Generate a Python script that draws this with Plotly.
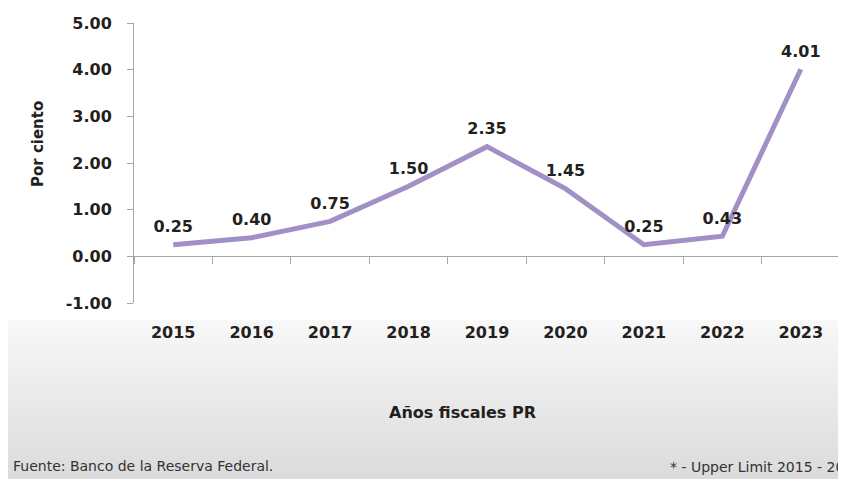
import base64
import plotly.graph_objects as go

years = ["2015", "2016", "2017", "2018", "2019", "2020", "2021", "2022", "2023"]
rates = [0.25, 0.40, 0.75, 1.50, 2.35, 1.45, 0.25, 0.43, 4.01]
rate_labels = [f"{v:.2f}" for v in rates]
y_ticks = [-1, 0, 1, 2, 3, 4, 5]
y_tick_labels = [f"{v:.2f}" for v in y_ticks]

FONT = "DejaVu Sans"
TXT = "#231F20"
AX = "#A6A6A6"
LINE = "#A190C5"

# page body has an 8px margin; figure coordinates = screen coordinates - 8
OFF = 8
W, H = 838, 471
L, R, T, B = 126, 6, 15, 176
plot_h = H - T - B
plot_w = W - L - R

svg = (
    '<svg xmlns="http://www.w3.org/2000/svg" width="838" height="159">'
    '<defs><linearGradient id="g" x1="0" y1="0" x2="0" y2="1">'
    '<stop offset="0" stop-color="#F8F8F8"/><stop offset="1" stop-color="#DBDBDB"/>'
    '</linearGradient></defs><rect width="838" height="159" fill="url(#g)"/></svg>'
)
svg_uri = "data:image/svg+xml;base64," + base64.b64encode(svg.encode()).decode()

fig = go.Figure()
fig.add_trace(go.Scatter(
    x=years, y=rates, mode="lines+markers+text",
    line=dict(color=LINE, width=5),
    marker=dict(size=12, color="rgba(0,0,0,0)"),
    text=rate_labels, textposition="top center",
    textfont=dict(family=FONT, size=16, color=TXT, weight="bold"),
    hoverinfo="skip", showlegend=False, cliponaxis=False,
))
# helper trace on x2 (zero-line axis with boundary ticks)
fig.add_trace(go.Scatter(x=years, y=[None] * len(years), xaxis="x2", showlegend=False, hoverinfo="skip"))

def px_x(sx):
    return (sx - OFF - L) / plot_w

def px_y(sy):
    return (H - B - (sy - OFF)) / plot_h

fig.update_layout(
    width=W, height=H,
    margin=dict(l=L, r=R, t=T, b=B, pad=0),
    paper_bgcolor="white", plot_bgcolor="rgba(0,0,0,0)",
    xaxis=dict(
        type="category", range=[-0.5, len(years) - 0.5],
        showline=False, showgrid=False, zeroline=False, ticks="",
        ticklabelstandoff=18,
        tickfont=dict(family=FONT, size=16, color=TXT, weight="bold"),
    ),
    xaxis2=dict(
        type="category", range=[-0.5, len(years) - 0.5], overlaying="x",
        anchor="free", position=1 / 6, side="bottom",
        showline=True, linecolor=AX, linewidth=1,
        ticks="outside", tickson="boundaries", ticklen=7, tickcolor=AX, tickwidth=1,
        showticklabels=False, showgrid=False, zeroline=False,
    ),
    yaxis=dict(
        range=[-1, 5], tickvals=y_ticks, ticktext=y_tick_labels,
        showline=True, linecolor=AX, linewidth=1,
        ticks="outside", ticklen=6, tickcolor=AX,
        ticklabelstandoff=12,
        showgrid=False, zeroline=False,
        tickfont=dict(family=FONT, size=16, color=TXT, weight="bold"),
    ),
    images=[dict(
        source=svg_uri, xref="paper", yref="paper",
        x=px_x(8), y=px_y(320), sizex=838 / plot_w, sizey=159 / plot_h,
        xanchor="left", yanchor="top", sizing="stretch", layer="below",
    )],
    annotations=[
        dict(text="Años fiscales PR", xref="paper", yref="paper",
             x=px_x(462), y=px_y(412), xanchor="center", yanchor="middle",
             showarrow=False, font=dict(family=FONT, size=16, color=TXT, weight="bold")),
        dict(text="Por ciento", xref="paper", yref="paper", textangle=-90,
             x=px_x(38), y=px_y(144), xanchor="center", yanchor="middle",
             showarrow=False, font=dict(family=FONT, size=15, color=TXT, weight="bold")),
        dict(text="Fuente: Banco de la Reserva Federal.", xref="paper", yref="paper",
             x=px_x(11), y=px_y(466), xanchor="left", yanchor="middle",
             showarrow=False, font=dict(family=FONT, size=14, color="#333333")),
        dict(text="* - Upper Limit 2015 - 2023", xref="paper", yref="paper",
             x=px_x(668), y=px_y(467), xanchor="left", yanchor="middle",
             showarrow=False, font=dict(family=FONT, size=14, color="#333333")),
    ],
)

fig.write_html("out.html")
